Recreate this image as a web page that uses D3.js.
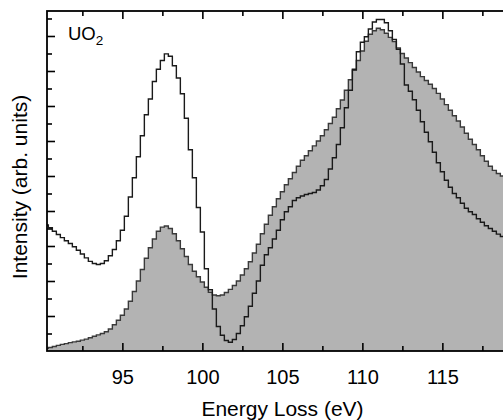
<!DOCTYPE html>
<html><head><meta charset="utf-8">
<script src="https://cdn.jsdelivr.net/npm/d3@7"></script>
<style>
body{margin:0;background:#fff;}
text{font-family:"Liberation Sans",Arial,Helvetica,sans-serif;fill:#000;}
</style>
</head><body>
<svg id="c" width="503" height="420"></svg>
<script>
// Energy grid (eV), bin positions
const energies = [
 90.25,90.5,90.75,91, 91.25,91.5,91.75,92, 92.25,92.5,92.75,93, 93.25,93.5,93.75,94,
 94.25,94.5,94.75,95, 95.25,95.5,95.75,96, 96.25,96.5,96.75,97, 97.25,97.5,97.75,98,
 98.25,98.5,98.75,99, 99.25,99.5,99.75,100, 100.25,100.5,100.75,101, 101.25,101.5,101.75,102,
 102.25,102.5,102.75,103, 103.25,103.5,103.75,104, 104.25,104.5,104.75,105, 105.25,105.5,105.75,106,
 106.25,106.5,106.75,107, 107.25,107.5,107.75,108, 108.25,108.5,108.75,109, 109.25,109.5,109.75,110,
 110.25,110.5,110.75,111, 111.25,111.5,111.75,112, 112.25,112.5,112.75,113, 113.25,113.5,113.75,114,
 114.25,114.5,114.75,115, 115.25,115.5,115.75,116, 116.25,116.5,116.75,117, 117.25,117.5,117.75,118,
 118.25,118.5,118.75,119, 119.25
];
// Unfilled (black outline) spectrum
const seriesA = [
 3.60,3.52,3.42,3.33, 3.24,3.15,3.07,2.98, 2.88,2.77,2.66,2.56, 2.50,2.47,2.50,2.58,
 2.72,2.90,3.15,3.45, 3.85,4.40,4.95,5.55, 6.15,6.75,7.20,7.70, 8.05,8.30,8.49,8.42,
 8.15,7.80,7.35,6.65, 5.75,4.95,4.10,3.40, 2.35,1.75,1.20,0.70, 0.45,0.30,0.25,0.33,
 0.50,0.72,0.98,1.28, 1.65,2.00,2.45,2.75, 2.95,3.20,3.45,3.75, 3.98,4.12,4.30,4.38,
 4.43,4.47,4.50,4.53, 4.60,4.72,4.90,5.20, 5.52,5.90,6.38,6.95, 7.45,8.05,8.55,8.82,
 8.98,9.20,9.40,9.47, 9.47,9.38,9.15,8.90, 8.62,8.20,7.60,7.42, 7.18,6.88,6.55,6.25,
 5.98,5.68,5.38,5.12, 4.88,4.68,4.50,4.38, 4.22,4.08,3.98,3.90, 3.78,3.68,3.58,3.50,
 3.42,3.34,3.27,3.20, 3.14
];
// Gray filled spectrum
const seriesB = [
 0.08,0.10,0.13,0.16, 0.19,0.21,0.24,0.26, 0.28,0.31,0.34,0.38, 0.42,0.46,0.50,0.55,
 0.63,0.75,0.88,1.02, 1.20,1.42,1.70,2.00, 2.33,2.65,2.95,3.20, 3.42,3.54,3.57,3.50,
 3.35,3.15,2.92,2.70, 2.47,2.28,2.12,1.97, 1.82,1.68,1.60,1.58, 1.60,1.67,1.76,1.87,
 2.00,2.17,2.35,2.55, 2.80,3.05,3.35,3.62, 3.88,4.12,4.35,4.55, 4.75,4.92,5.10,5.28,
 5.45,5.58,5.72,5.86, 6.00,6.15,6.32,6.50, 6.68,6.92,7.17,7.45, 7.75,8.02,8.30,8.57,
 8.85,9.05,9.15,9.22, 9.18,9.08,8.96,8.84, 8.66,8.50,8.37,8.24, 8.10,7.97,7.84,7.73,
 7.62,7.50,7.36,7.20, 7.04,6.88,6.72,6.57, 6.40,6.22,6.05,5.90, 5.75,5.58,5.42,5.28,
 5.16,5.07,5.00,4.93, 4.87
];
const xMajorTicks = [95,100,105,110,115];
const xMinorTicks = [92.5,97.5,102.5,107.5,112.5,117.5];
const yMajorTicks = [1,2,3,4,5,6,7,8,9];
const yMinorTicks = [0.5,1.5,2.5,3.5,4.5,5.5,6.5,7.5,8.5,9.5];
const xTitle = "Energy Loss (eV)";
const yTitle = "Intensity (arb. units)";

const L=47, R=511, T=11, B=351;
const svg = d3.select("#c");
const x = d3.scaleLinear().domain([90.29,119.29]).range([L,R]);
const y = d3.scaleLinear().domain([0,9.714]).range([B,T]);

svg.append("defs").append("clipPath").attr("id","clip")
  .append("rect").attr("x",L).attr("y",T).attr("width",R-L).attr("height",B-T);

const dataA = energies.map((e,i)=>({e, v:seriesA[i]}));
const dataB = energies.map((e,i)=>({e, v:seriesB[i]}));

const g = svg.append("g").attr("clip-path","url(#clip)");
g.append("path").datum(dataB)
  .attr("d", d3.area().curve(d3.curveStep).x(d=>x(d.e)).y0(y(0)).y1(d=>y(d.v)))
  .attr("fill","#b3b3b3");
g.append("path").datum(dataB)
  .attr("d", d3.line().curve(d3.curveStep).x(d=>x(d.e)).y(d=>y(d.v)))
  .attr("fill","none").attr("stroke","#3a3a3a").attr("stroke-width",1.4);
g.append("path").datum(dataA)
  .attr("d", d3.line().curve(d3.curveStep).x(d=>x(d.e)).y(d=>y(d.v)))
  .attr("fill","none").attr("stroke","#1a1a1a").attr("stroke-width",1.4);

function styleAxis(sel){
  sel.select(".domain").remove();
  sel.selectAll(".tick line").attr("stroke","#000").attr("stroke-width",1.6);
}
// bottom
svg.append("g").attr("transform",`translate(0,${B})`)
  .call(d3.axisBottom(x).tickValues(xMajorTicks).tickSizeInner(-8).tickSizeOuter(0).tickPadding(19).tickFormat(d3.format("d")))
  .call(styleAxis)
  .selectAll("text").attr("font-size",20).attr("font-family","Liberation Sans, Arial, sans-serif").attr("fill","#000");
svg.append("g").attr("transform",`translate(0,${B})`)
  .call(d3.axisBottom(x).tickValues(xMinorTicks).tickSizeInner(-5).tickSizeOuter(0).tickFormat(""))
  .call(styleAxis);
// top
svg.append("g").attr("transform",`translate(0,${T})`)
  .call(d3.axisTop(x).tickValues(xMajorTicks).tickSizeInner(-8).tickSizeOuter(0).tickFormat(""))
  .call(styleAxis);
svg.append("g").attr("transform",`translate(0,${T})`)
  .call(d3.axisTop(x).tickValues(xMinorTicks).tickSizeInner(-5).tickSizeOuter(0).tickFormat(""))
  .call(styleAxis);
// left
svg.append("g").attr("transform",`translate(${L},0)`)
  .call(d3.axisLeft(y).tickValues(yMajorTicks).tickSizeInner(-8).tickSizeOuter(0).tickFormat(""))
  .call(styleAxis);
svg.append("g").attr("transform",`translate(${L},0)`)
  .call(d3.axisLeft(y).tickValues(yMinorTicks).tickSizeInner(-5).tickSizeOuter(0).tickFormat(""))
  .call(styleAxis);
// right
svg.append("g").attr("transform",`translate(${R},0)`)
  .call(d3.axisRight(y).tickValues(yMajorTicks).tickSizeInner(-8).tickSizeOuter(0).tickFormat(""))
  .call(styleAxis);
svg.append("g").attr("transform",`translate(${R},0)`)
  .call(d3.axisRight(y).tickValues(yMinorTicks).tickSizeInner(-5).tickSizeOuter(0).tickFormat(""))
  .call(styleAxis);

// frame
svg.append("rect").attr("x",L).attr("y",T).attr("width",R-L).attr("height",B-T)
  .attr("fill","none").attr("stroke","#000").attr("stroke-width",1.8);

// titles
svg.append("text").attr("x",282.5).attr("y",416).attr("text-anchor","middle")
  .attr("font-size",21).text(xTitle);
svg.append("text").attr("transform","translate(27,187) rotate(-90)").attr("text-anchor","middle")
  .attr("font-size",21).text(yTitle);

// label UO2
const lab = svg.append("text").attr("x",68).attr("y",40).attr("font-size",18.5);
lab.append("tspan").text("UO");
lab.append("tspan").attr("font-size",13.5).attr("dy",5).text("2");
</script>
</body></html>
